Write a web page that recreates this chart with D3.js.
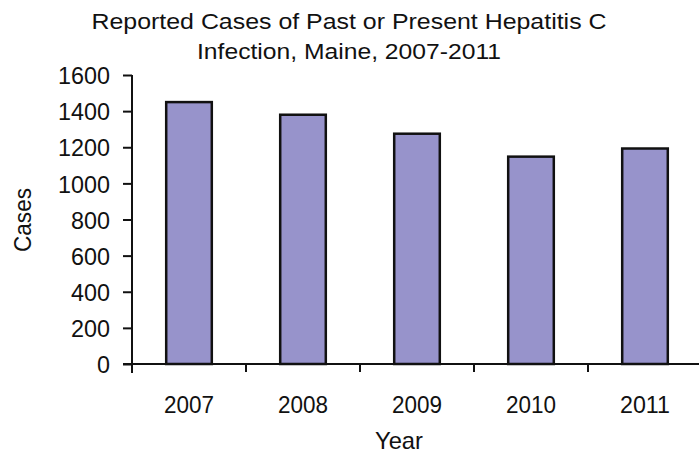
<!DOCTYPE html>
<html>
<head>
<meta charset="utf-8">
<script src="https://cdn.jsdelivr.net/npm/d3@7"></script>
<style>
  body { margin: 0; background: #fff; }
  text { font-family: "Liberation Sans", Arial, sans-serif; fill: #111; }
</style>
</head>
<body>
<script>
// chart data
const years = ["2007", "2008", "2009", "2010", "2011"];
const cases = [1450, 1380, 1275, 1148, 1193];
const yTicks = [0, 200, 400, 600, 800, 1000, 1200, 1400, 1600];
const titleLines = ["Reported Cases of Past or Present Hepatitis C", "Infection, Maine, 2007-2011"];

const width = 699, height = 461;
const margin = { top: 75, right: -1, bottom: 97, left: 132 };

const svg = d3.select("body").append("svg")
    .attr("width", width)
    .attr("height", height);

// scales
const x = d3.scaleBand()
    .domain(years)
    .range([margin.left, width - margin.right + 2])
    .paddingInner(0.6)
    .paddingOuter(0.3);

const y = d3.scaleLinear()
    .domain([0, 1600])
    .range([height - margin.bottom, margin.top]);

// bars
svg.append("g").selectAll("rect")
    .data(years)
    .join("rect")
    .attr("x", d => x(d))
    .attr("y", (d, i) => y(cases[i]))
    .attr("width", x.bandwidth())
    .attr("height", (d, i) => y(0) - y(cases[i]))
    .attr("fill", "#9793cb")
    .attr("stroke", "#111")
    .attr("stroke-width", 2.5);

// y axis
const yAxis = svg.append("g")
    .attr("transform", `translate(${margin.left},0)`)
    .call(d3.axisLeft(y).tickValues(yTicks).tickFormat(d3.format("d"))
        .tickSize(9).tickPadding(13).tickSizeOuter(0));
yAxis.select(".domain").remove();
yAxis.append("line")
    .attr("x1", 0).attr("x2", 0)
    .attr("y1", y(1600)).attr("y2", y(0) + 9)
    .attr("stroke", "#111").attr("stroke-width", 2);
yAxis.selectAll(".tick line").attr("stroke", "#111").attr("stroke-width", 2);
yAxis.selectAll(".tick text")
    .attr("font-size", 24)
    .attr("fill", "#111")
    .attr("dy", "0.36em")
    .attr("textLength", d => String(d).length * 13)
    .attr("lengthAdjust", "spacingAndGlyphs");

// x axis
const xAxis = svg.append("g")
    .attr("transform", `translate(0,${y(0)})`);
xAxis.append("line")
    .attr("x1", margin.left - 9).attr("x2", width)
    .attr("stroke", "#111").attr("stroke-width", 2);
const gap = (x.step() - x.bandwidth()) / 2;
xAxis.selectAll(".sep")
    .data(years.slice(0, -1))
    .join("line")
    .attr("class", "sep")
    .attr("x1", d => x(d) + x.bandwidth() + gap)
    .attr("x2", d => x(d) + x.bandwidth() + gap)
    .attr("y1", 0).attr("y2", 8)
    .attr("stroke", "#111").attr("stroke-width", 2);
xAxis.selectAll(".lbl")
    .data(years)
    .join("text")
    .attr("class", "lbl")
    .attr("x", d => x(d) + x.bandwidth() / 2)
    .attr("y", 49)
    .attr("text-anchor", "middle")
    .attr("font-size", 24)
    .attr("textLength", 50)
    .attr("lengthAdjust", "spacingAndGlyphs")
    .text(d => d);

// axis titles
svg.append("text")
    .attr("x", 399)
    .attr("y", 449)
    .attr("text-anchor", "middle")
    .attr("font-size", 24)
    .attr("textLength", 48)
    .attr("lengthAdjust", "spacingAndGlyphs")
    .text("Year");

svg.append("text")
    .attr("transform", "translate(31,220) rotate(-90)")
    .attr("text-anchor", "middle")
    .attr("font-size", 24)
    .attr("textLength", 64)
    .attr("lengthAdjust", "spacingAndGlyphs")
    .text("Cases");

// chart title
const titleLens = [515, 304];
svg.selectAll(".title")
    .data(titleLines)
    .join("text")
    .attr("class", "title")
    .attr("x", 349)
    .attr("y", (d, i) => 29 + i * 30)
    .attr("text-anchor", "middle")
    .attr("font-size", 22)
    .attr("textLength", (d, i) => titleLens[i])
    .attr("lengthAdjust", "spacingAndGlyphs")
    .text(d => d);
</script>
</body>
</html>
